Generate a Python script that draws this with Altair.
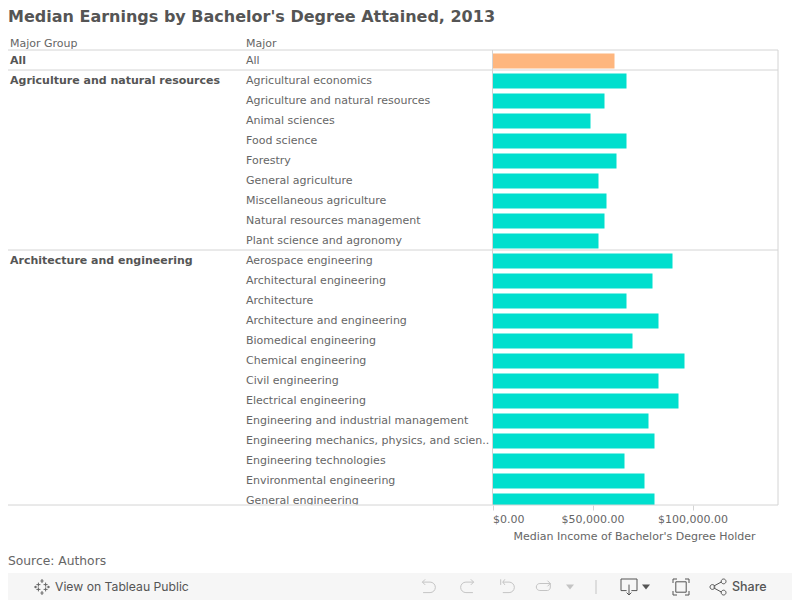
import altair as alt
import pandas as pd

FONT = "DejaVu Sans"
GRID = "#d4d4d4"
TEXT = "#666666"
DARK = "#555555"

majors = [
    "All",
    "Agricultural economics", "Agriculture and natural resources", "Animal sciences",
    "Food science", "Forestry", "General agriculture", "Miscellaneous agriculture",
    "Natural resources management", "Plant science and agronomy",
    "Aerospace engineering", "Architectural engineering", "Architecture",
    "Architecture and engineering", "Biomedical engineering", "Chemical engineering",
    "Civil engineering", "Electrical engineering", "Engineering and industrial management",
    "Engineering mechanics, physics, and scien..", "Engineering technologies",
    "Environmental engineering", "General engineering",
]
values = [
    61000,
    67000, 56000, 49000, 67000, 62000, 53000, 57000, 56000, 53000,
    90000, 80000, 67000, 83000, 70000, 96000, 83000, 93000, 78000, 81000, 66000, 76000, 81000,
]
groups = ["All", "Agriculture and natural resources", "Architecture and engineering"]
group_first = ["All", "Agricultural economics", "Aerospace engineering"]
kinds = ["All" if m == "All" else "Major" for m in majors]
ticks = [0, 50000, 100000]

rows = pd.DataFrame({"major": majors, "value": values, "kind": kinds})
heads = pd.DataFrame({"group": groups, "major": group_first})

x_scale = alt.Scale(domain=[0, 142750], range=[484.5, 770])
y_scale = alt.Scale(domain=majors, range=[0, 460], paddingInner=0, paddingOuter=0)
y_enc = alt.Y("major:N", scale=y_scale, axis=None, sort=majors)

bars = alt.Chart(rows).mark_bar(size=15, clip=True, yOffset=1).encode(
    x=alt.X(
        "value:Q", scale=x_scale,
        axis=alt.Axis(
            values=ticks, format="$,.2f", domain=False, grid=False,
            tickColor=GRID, tickSize=5, labelFlush=True, labelFlushOffset=0,
            labelFont=FONT, labelFontSize=11, labelColor=TEXT, labelPadding=3,
            title="Median Income of Bachelor's Degree Holder",
            titleFont=FONT, titleFontSize=11, titleFontWeight="normal",
            titleColor=TEXT, titlePadding=6, titleX=626,
        ),
    ),
    y=y_enc,
    color=alt.Color(
        "kind:N",
        scale=alt.Scale(domain=["All", "Major"], range=["#FEB67E", "#00DFCE"]),
        legend=None,
    ),
)

major_text = alt.Chart(rows).mark_text(
    align="left", baseline="middle", font=FONT, fontSize=11, color=TEXT, clip=True, dy=1
).encode(x=alt.value(238), y=y_enc, text="major:N")

group_text = alt.Chart(heads).mark_text(
    align="left", baseline="middle", font=FONT, fontSize=11, fontWeight="bold", color=DARK, clip=True, dy=1
).encode(x=alt.value(2), y=y_enc, text="group:N")

separators = alt.Chart(heads).mark_rule(color=GRID, strokeWidth=1).encode(
    x=alt.value(0), x2=alt.value(770),
    y=alt.Y("major:N", scale=y_scale, axis=None, sort=majors, bandPosition=0),
)


def hline(y, x0=0, x1=770, color=GRID):
    return alt.Chart(rows.head(1)).mark_rule(color=color, strokeWidth=1).encode(
        x=alt.value(x0), x2=alt.value(x1), y=alt.value(y))


def vline(x, y0=0, y1=455, color=GRID):
    return alt.Chart(rows.head(1)).mark_rule(color=color, strokeWidth=1).encode(
        x=alt.value(x), y=alt.value(y0), y2=alt.value(y1))


def label(txt, x, y, **kw):
    base = dict(align="left", baseline="middle", font=FONT, fontSize=11, color=TEXT)
    base.update(kw)
    return alt.Chart(pd.DataFrame({"t": [txt]})).mark_text(**base).encode(
        x=alt.value(x), y=alt.value(y), text="t:N")


def icon(path, x, y, size=64, color="#c4c4c4", fill=False, width=1):
    kw = dict(shape=path, size=size, opacity=1, strokeWidth=width)
    if fill:
        kw.update(filled=True, fill=color, stroke=None)
    else:
        kw.update(filled=False, stroke=color)
    return alt.Chart(rows.head(1)).mark_point(**kw).encode(x=alt.value(x), y=alt.value(y))


toolbar_bg = alt.Chart(rows.head(1)).mark_rect(color="#f6f6f6").encode(
    x=alt.value(0), x2=alt.value(784), y=alt.value(523), y2=alt.value(550))

TRI = "M-1,-0.6L1,-0.6L0,0.6Z"
UNDO = "M-0.8,-0.7H0.3A0.75,0.75 0 0 1 0.3,0.8H-0.7M-0.8,-0.7L-0.4,-1.1M-0.8,-0.7L-0.4,-0.3"
REDO = "M0.8,-0.7H-0.3A0.75,0.75 0 0 0 -0.3,0.8H0.7M0.8,-0.7L0.4,-1.1M0.8,-0.7L0.4,-0.3"
REVERT = "M-0.9,-1.1V-0.3M-0.6,-0.7H0.3A0.75,0.75 0 0 1 0.3,0.8H-0.6M-0.6,-0.7L-0.3,-1.1M-0.6,-0.7L-0.3,-0.3"
FWD = "M0.9,-0.5H-0.6A0.45,0.45 0 0 0 -0.6,0.5H0.5A0.45,0.45 0 0 0 0.9,0V-0.5M0.9,-0.5L0.5,-0.9M0.9,-0.5L0.5,-0.1"
DOWN = "M-0.3,0.45H-1V-1H1V0.45H0.3M0,-0.3V0.9M-0.3,0.7L0,1L0.3,0.7"
FULL = "M-0.5,-1H-1V-0.5M0.5,-1H1V-0.5M-0.5,1H-1V0.5M0.5,1H1V0.5M-0.65,-0.65H0.65V0.65H-0.65Z"
SHARE = "M-0.55,-0.1L0.45,-0.65M-0.55,0.1L0.45,0.65M-0.4,0A0.3,0.3 0 1 1 -1,0A0.3,0.3 0 1 1 -0.4,0M1,-0.7A0.3,0.3 0 1 1 0.4,-0.7A0.3,0.3 0 1 1 1,-0.7M1,0.7A0.3,0.3 0 1 1 0.4,0.7A0.3,0.3 0 1 1 1,0.7"
STAR = "M0,-1V-0.5M-0.2,-0.75H0.2M0,1V0.5M-0.2,0.75H0.2M-1,0H-0.6M-0.8,-0.15V0.15M0.6,0H1M0.8,-0.15V0.15M-0.45,-0.55V-0.05M-0.7,-0.3H-0.2M0.45,-0.55V-0.05M0.2,-0.3H0.7M-0.45,0.55V0.05M-0.7,0.3H-0.2M0.45,0.55V0.05M0.2,0.3H0.7"

chart = alt.layer(
    bars, major_text, group_text,
    separators,
    hline(455), vline(484.5, 0, 455), vline(770, 0, 455),
    label("Major Group", 2, -6),
    label("Major", 238, -6),
    label("Source: Authors", 0, 511, fontSize=12.3),
    toolbar_bg,
    label("View on Tableau Public", 47, 537, font="Inter", fontSize=12.2, color=DARK),
    label("Share", 724, 537, font="Inter", fontSize=12.5, fontWeight=500, color=DARK),
    icon(STAR, 34, 537, size=256, color="#666666"),
    icon(UNDO, 420, 537, size=196),
    icon(REDO, 460, 537, size=196),
    icon(REVERT, 499, 537, size=196),
    icon(FWD, 536, 537, size=196),
    icon(TRI, 562, 537, size=64, color="#c4c4c4", fill=True),
    vline(588, 530, 544, color="#c4c4c4"),
    icon(DOWN, 621, 537, size=256, color="#555555"),
    icon(TRI, 638, 537, size=64, color="#555555", fill=True),
    icon(FULL, 673, 537, size=256, color="#555555"),
    icon(SHARE, 710, 537, size=256, color="#555555"),
).properties(
    width=770,
    height=455,
    padding={"left": 0, "top": 42, "right": 14, "bottom": 95},
    autosize=alt.AutoSizeParams(type="none"),
    title=alt.TitleParams(
        "Median Earnings by Bachelor's Degree Attained, 2013",
        anchor="start", frame="group", font=FONT, fontSize=16, fontWeight="bold",
        color=DARK, offset=13,
    ),
).configure_view(stroke=None)

chart.save("out.html", embed_options={"renderer": "svg", "actions": False})
